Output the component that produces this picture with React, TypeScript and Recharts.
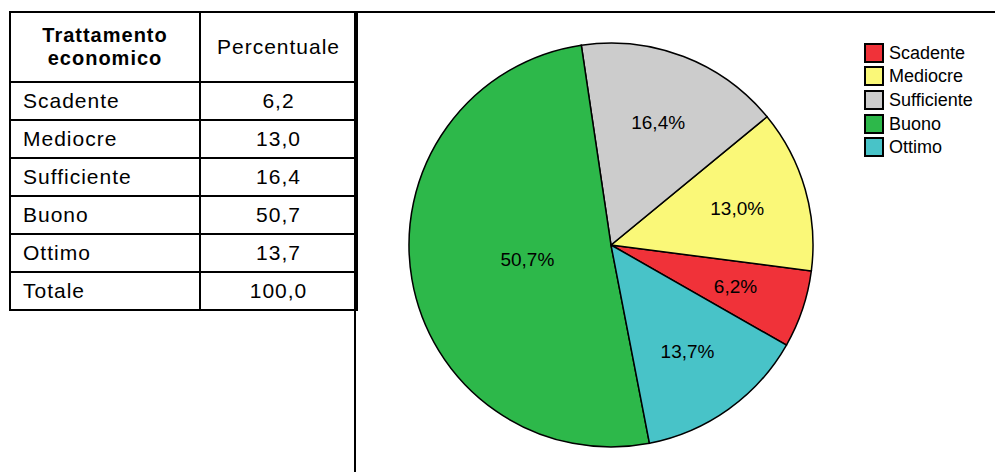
import React from 'react';
import { PieChart, Pie, Cell, Legend } from 'recharts';

const categories = ['Scadente', 'Mediocre', 'Sufficiente', 'Buono', 'Ottimo'];
const percentuali = [6.2, 13.0, 16.4, 50.7, 13.7];
const totale = 100.0;
const colori = ['#F03239', '#FAF878', '#CCCCCC', '#2DB84A', '#48C3C8'];

const font = '"Liberation Sans", Arial, sans-serif';
const fmt = (v: number) => v.toFixed(1).replace('.', ',');

const data = categories.map((name, i) => ({ name, value: percentuali[i] }));

const RADIAN = Math.PI / 180;
const renderLabel = (props: any) => {
    const { cx, cy, midAngle, outerRadius, percent, value } = props;
    const r = percent > 0.5 ? outerRadius * 0.42 : outerRadius * 0.65;
    const x = cx + r * Math.cos(-midAngle * RADIAN);
    const y = cy + r * Math.sin(-midAngle * RADIAN);
    return (
        <text x={x} y={y} fill="#000" textAnchor="middle" dominantBaseline="central"
            style={{ fontFamily: font, fontSize: 19 }}>
            {fmt(value) + '%'}
        </text>
    );
};

const renderLegend = (props: any) => {
    // keep the legend in data order (recharts sorts it by name otherwise)
    const payload = [...(props.payload || [])].sort(
        (a: any, b: any) => categories.indexOf(a.value) - categories.indexOf(b.value)
    );
    return (
        <div style={{ fontFamily: font, fontSize: 18 }}>
            {payload.map((entry: any, i: number) => {
                const idx = categories.indexOf(entry.value);
                return (
                    <div key={i} style={{ display: 'flex', alignItems: 'center', height: 23.6 }}>
                        <span style={{
                            display: 'inline-block', width: 16, height: 16, border: '2px solid #000',
                            background: idx >= 0 ? colori[idx] : entry.color, marginRight: 5,
                        }} />
                        <span style={{ color: '#000', lineHeight: '20px' }}>{entry.value}</span>
                    </div>
                );
            })}
        </div>
    );
};

const cell: React.CSSProperties = { border: '2px solid #000', padding: 0, height: 36 };

const App = () => {
    return (
        <div style={{ position: 'relative', width: 995, height: 464, overflow: 'hidden', fontFamily: font }}>
            <div style={{ position: 'absolute', left: 1, top: 3, width: 1000, height: 2, background: '#000' }} />
            <div style={{ position: 'absolute', left: 346, top: 3, width: 2, height: 470, background: '#000' }} />
            <table style={{
                position: 'absolute', left: 1, top: 3, borderCollapse: 'collapse', tableLayout: 'fixed',
                width: 347, fontSize: 21, letterSpacing: 1, color: '#000',
            }}>
                <colgroup>
                    <col style={{ width: 190 }} />
                    <col style={{ width: 157 }} />
                </colgroup>
                <tbody>
                    <tr>
                        <td style={{ ...cell, height: 68, textAlign: 'center', fontWeight: 'bold', fontSize: 20, lineHeight: '23px' }}>
                            Trattamento<br />economico
                        </td>
                        <td style={{ ...cell, height: 68, textAlign: 'center' }}>Percentuale</td>
                    </tr>
                    {categories.map((c, i) => (
                        <tr key={c}>
                            <td style={{ ...cell, paddingLeft: 12 }}>{c}</td>
                            <td style={{ ...cell, textAlign: 'center' }}>{fmt(percentuali[i])}</td>
                        </tr>
                    ))}
                    <tr>
                        <td style={{ ...cell, paddingLeft: 12 }}>Totale</td>
                        <td style={{ ...cell, textAlign: 'center' }}>{fmt(totale)}</td>
                    </tr>
                </tbody>
            </table>
            <div style={{ position: 'absolute', left: 348, top: 0 }}>
                <PieChart width={647} height={464} margin={{ top: 0, right: 0, bottom: 0, left: 0 }}>
                    <Pie
                        data={data}
                        dataKey="value"
                        nameKey="name"
                        cx={255}
                        cy={237}
                        outerRadius={202}
                        startAngle={-29.7}
                        endAngle={330.3}
                        stroke="#000"
                        strokeWidth={1.5}
                        label={renderLabel}
                        labelLine={false}
                        isAnimationActive={false}
                    >
                        {data.map((d, i) => (
                            <Cell key={d.name} fill={colori[i]} />
                        ))}
                    </Pie>
                    <Legend
                        layout="vertical"
                        verticalAlign="top"
                        align="right"
                        content={renderLegend}
                        wrapperStyle={{ top: 33, left: 508, right: 'auto', width: 130 }}
                    />
                </PieChart>
            </div>
        </div>
    );
};

export default App;
